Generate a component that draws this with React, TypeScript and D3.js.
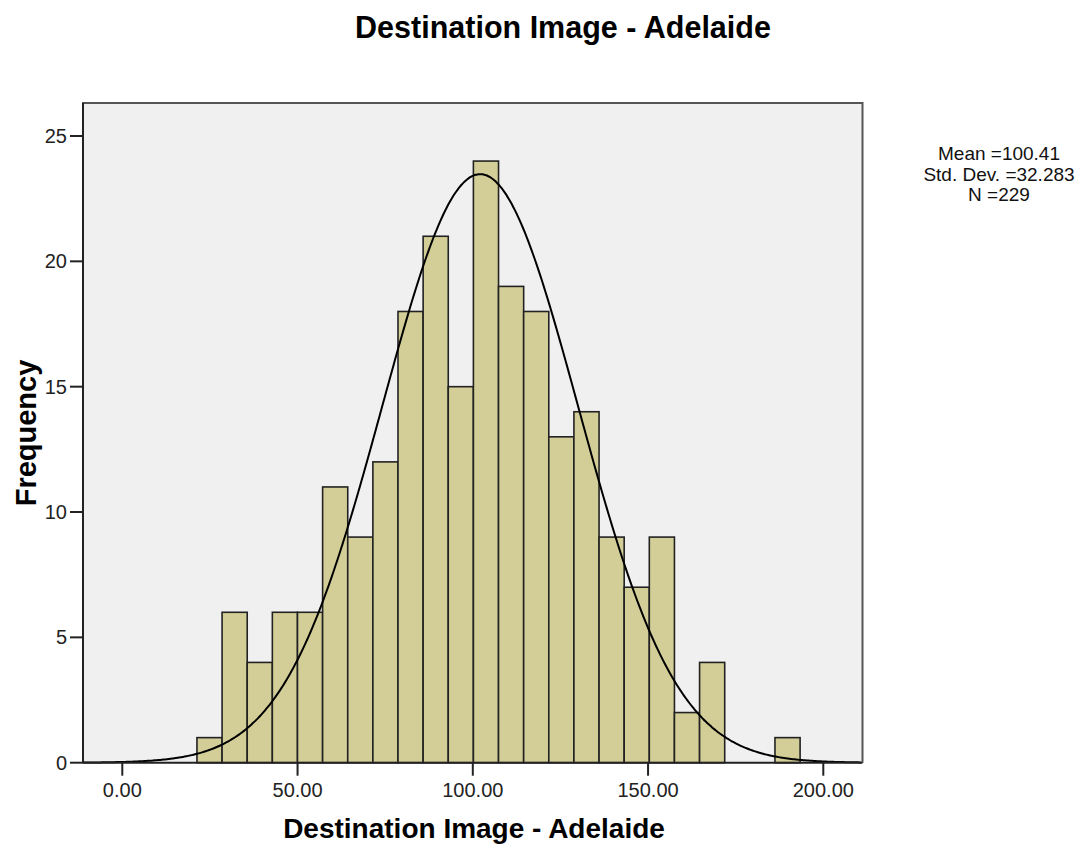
import React from "react";
import * as d3 from "d3";

const chartTitle = "Destination Image - Adelaide";
const xAxisTitle = "Destination Image - Adelaide";
const yAxisTitle = "Frequency";
const binStart = 21.3;
const binWidth = 7.17;
const binCounts = [1, 6, 4, 6, 6, 11, 9, 12, 18, 21, 15, 24, 19, 18, 13, 14, 9, 7, 9, 2, 4, 0, 0, 1];
const xTicks = [0, 50, 100, 150, 200];
const yTicks = [0, 5, 10, 15, 20, 25];
const statsLines = ["Mean =100.41", "Std. Dev. =32.283", "N =229"];
const sampleN = 229;
const curveMean = 102.1;
const curveSd = 27.9;

const W = 1088;
const H = 853;
const plot = { left: 83, right: 862.5, top: 103, bottom: 762.7 };
const FONT = "'Liberation Sans', Arial, Helvetica, sans-serif";

export default function App() {
  const x = d3.scaleLinear().domain([0, 200]).range([122.3, 823.3]);
  const xDomain = [x.invert(plot.left), x.invert(plot.right)];
  const y = d3.scaleLinear().domain([0, 25]).range([plot.bottom, 136]);

  const bins = binCounts.map((c, i) => ({
    x0: binStart + i * binWidth,
    x1: binStart + (i + 1) * binWidth,
    count: c,
  }));

  const pdf = (v: number) =>
    (sampleN * binWidth) / (curveSd * Math.sqrt(2 * Math.PI)) *
    Math.exp(-((v - curveMean) ** 2) / (2 * curveSd * curveSd));
  const curvePts = d3.range(xDomain[0], xDomain[1] + 0.01, 0.5).map((v) => [v, pdf(v)] as [number, number]);
  const line = d3
    .line<[number, number]>()
    .x((d) => x(d[0]))
    .y((d) => y(d[1]))
    .curve(d3.curveBasis);

  return (
    <svg
      width={W}
      height={H}
      style={{ position: "absolute", left: 0, top: 0, background: "#fff" }}
      fontFamily={FONT}
    >
      <text x={563} y={38} textAnchor="middle" fontSize={30.5} fontWeight="bold" fill="#000">
        {chartTitle}
      </text>

      <rect
        x={plot.left}
        y={plot.top}
        width={plot.right - plot.left}
        height={plot.bottom - plot.top}
        fill="#F0F0F0"
        stroke="none"
      />

      {bins
        .filter((b) => b.count > 0)
        .map((b, i) => (
          <rect
            key={i}
            x={x(b.x0)}
            y={y(b.count)}
            width={x(b.x1) - x(b.x0)}
            height={y(0) - y(b.count)}
            fill="#D3CE97"
            stroke="#222"
            strokeWidth={1.6}
          />
        ))}

      <path d={line(curvePts) || ""} fill="none" stroke="#000" strokeWidth={2} />

      {/* frame */}
      <path
        d={`M${plot.left},${plot.bottom}V${plot.top}H${plot.right}V${plot.bottom}`}
        fill="none"
        stroke="#555"
        strokeWidth={2}
      />
      <line x1={plot.left} x2={plot.left} y1={plot.top} y2={plot.bottom} stroke="#222" strokeWidth={2} />
      <line x1={plot.left} x2={plot.right} y1={plot.bottom} y2={plot.bottom} stroke="#222" strokeWidth={2} />

      {yTicks.map((t) => (
        <g key={t}>
          <line x1={plot.left - 13} x2={plot.left} y1={y(t)} y2={y(t)} stroke="#222" strokeWidth={2} />
          <text x={67} y={y(t) + 7} textAnchor="end" fontSize={20} fill="#222">
            {t}
          </text>
        </g>
      ))}

      {xTicks.map((t) => (
        <g key={t}>
          <line x1={x(t)} x2={x(t)} y1={plot.bottom} y2={plot.bottom + 13} stroke="#222" strokeWidth={2} />
          <text x={x(t)} y={797} textAnchor="middle" fontSize={20} fill="#222">
            {t.toFixed(2)}
          </text>
        </g>
      ))}

      <text x={474} y={838} textAnchor="middle" fontSize={28} fontWeight="bold" fill="#000">
        {xAxisTitle}
      </text>
      <text
        transform={`translate(36,433) rotate(-90)`}
        textAnchor="middle"
        fontSize={29}
        fontWeight="bold"
        fill="#000"
      >
        {yAxisTitle}
      </text>

      {statsLines.map((s, i) => (
        <text key={i} x={999} y={160 + i * 20.7} textAnchor="middle" fontSize={19} fill="#111">
          {s}
        </text>
      ))}
    </svg>
  );
}
